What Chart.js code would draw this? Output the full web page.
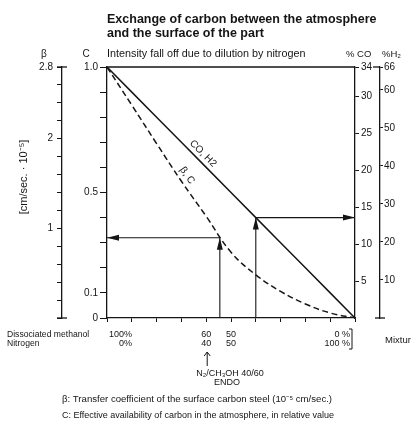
<!DOCTYPE html>
<html>
<head>
<meta charset="utf-8">
<script src="https://cdn.jsdelivr.net/npm/chart.js@4/dist/chart.umd.min.js"></script>
<style>
  body { margin: 0; background: #fff; }
  #wrap { width: 411px; height: 435px; position: relative; }
</style>
</head>
<body>
<div id="wrap"><canvas id="myChart"></canvas></div>
<script>
// values (x = % nitrogen in the mixture)
const nitrogen = [0, 10, 20, 30, 40, 50, 60, 70, 80, 90, 100];
const coH2 = [1.0, 0.9, 0.8, 0.7, 0.6, 0.5, 0.4, 0.3, 0.2, 0.1, 0.0];
const betaC = [1.0, 0.848, 0.695, 0.545, 0.405, 0.262, 0.172, 0.106, 0.056, 0.02, 0.0];

// the two reading arrows: x position and the level they turn at
const arrowX = [45.5, 60];
const arrowLevel = [0.32, 0.40];

// axis ticks
const cTicks = [0, 0.1, 0.2, 0.3, 0.4, 0.5, 0.6, 0.7, 0.8, 0.9, 1.0];
const cTickLabels = ['0', '0.1', '', '', '', '0.5', '', '', '', '', '1.0'];
const betaTicks = [0, 0.2, 0.4, 0.6, 0.8, 1.0, 1.2, 1.4, 1.6, 1.8, 2.0, 2.2, 2.4, 2.6, 2.8];
const betaTickLabels = ['', '', '', '', '', '1', '', '', '', '', '2', '', '', '', '2.8'];
const coTicks = [5, 10, 15, 20, 25, 30, 34];
const h2Ticks = [10, 20, 30, 40, 50, 60, 66];

// mixture rows under the x axis
const mixAt = [0, 40, 50, 100];
const methanolRow = ['100%', '60', '50', '0 %'];
const nitrogenRow = ['0%', '40', '50', '100 %'];

const ink = '#151515';
const fam = '"Liberation Sans", Arial, sans-serif';
Chart.defaults.font.family = fam;
Chart.defaults.color = ink;

function pts(xs, ys) {
    return xs.map((v, i) => ({ x: v, y: ys[i] }));
}

function line(ctx, x1, y1, x2, y2) {
    ctx.beginPath();
    ctx.moveTo(x1, y1);
    ctx.lineTo(x2, y2);
    ctx.stroke();
}

function txt(ctx, s, x, y, size, align, bold) {
    ctx.font = (bold ? 'bold ' : '') + size + 'px ' + fam;
    ctx.textAlign = align || 'left';
    ctx.textBaseline = 'middle';
    ctx.fillText(s, x, y);
}

function fixTicks(list) {
    return function (scale) {
        scale.ticks = list.map(v => ({ value: v }));
    };
}

function sideAxis(pos, max, weight, list, labels, tickLen, pad, width) {
    return {
        type: 'linear',
        position: pos,
        min: 0,
        max: max,
        weight: weight,
        afterBuildTicks: fixTicks(list),
        afterFit: function (s) { s.width = width; },
        ticks: {
            autoSkip: false,
            padding: pad,
            font: { size: 10 },
            color: ink,
            callback: (v, i) => labels[i]
        },
        grid: { drawOnChartArea: false, tickLength: tickLen, color: ink, lineWidth: 1 },
        border: { color: ink, width: 1.3 }
    };
}

const arrowHeads = {
    id: 'arrowHeads',
    afterDatasetsDraw(chart) {
        const ctx = chart.ctx;
        chart.data.datasets.forEach((ds, i) => {
            if (!ds.arrow) return;
            const p = chart.getDatasetMeta(i).data;
            const a = p[p.length - 2], b = p[p.length - 1];
            ctx.save();
            ctx.fillStyle = ink;
            ctx.translate(b.x, b.y);
            ctx.rotate(Math.atan2(b.y - a.y, b.x - a.x));
            ctx.beginPath();
            ctx.moveTo(0, 0);
            ctx.lineTo(-12, -3);
            ctx.lineTo(-12, 3);
            ctx.closePath();
            ctx.fill();
            ctx.restore();
        });
    }
};

const diagramText = {
    id: 'diagramText',
    afterDraw(chart) {
        const ctx = chart.ctx;
        const area = chart.chartArea;
        const x = chart.scales.x, c = chart.scales.c, b = chart.scales.beta, h2 = chart.scales.h2;
        ctx.save();
        ctx.fillStyle = ink;
        ctx.strokeStyle = ink;
        ctx.lineWidth = 1.3;

        // top edge of the plot and axis end caps
        line(ctx, area.left, area.top, area.right, area.top);
        const bx = b.right;
        line(ctx, bx - 5, b.getPixelForValue(2.8), bx + 5, b.getPixelForValue(2.8));
        line(ctx, bx - 5, b.getPixelForValue(0), bx + 5, b.getPixelForValue(0));
        const hx = h2.left;
        line(ctx, hx - 7, h2.getPixelForValue(66), hx, h2.getPixelForValue(66));
        line(ctx, hx - 5, h2.getPixelForValue(0), hx + 5, h2.getPixelForValue(0));

        // titles
        txt(ctx, 'Exchange of carbon between the atmosphere', area.left, 20, 12.5, 'left', true);
        txt(ctx, 'and the surface of the part', area.left, 34, 12.5, 'left', true);
        txt(ctx, 'β', 44, 54, 10, 'center');
        txt(ctx, 'C', 86, 54, 10, 'center');
        txt(ctx, 'Intensity fall off due to dilution by nitrogen', area.left, 54, 10.8);
        txt(ctx, '% CO', 346, 54, 9.5);
        txt(ctx, '%H₂', 382, 54, 9.5);

        // beta axis unit
        ctx.save();
        ctx.translate(24, 177);
        ctx.rotate(-Math.PI / 2);
        txt(ctx, '[cm/sec. · 10⁻⁵]', 0, 0, 11, 'center');
        ctx.restore();

        // curve names
        ctx.save();
        ctx.translate(x.getPixelForValue(38.7), c.getPixelForValue(0.655));
        ctx.rotate(Math.PI / 4);
        txt(ctx, 'CO, H2', 0, 0, 10, 'center');
        ctx.restore();
        ctx.save();
        ctx.translate(x.getPixelForValue(32.3), c.getPixelForValue(0.568));
        ctx.rotate(0.95);
        txt(ctx, 'β, C', 0, 0, 10, 'center');
        ctx.restore();

        // mixture rows
        const y1 = 335, y2 = 344;
        txt(ctx, 'Dissociated methanol', 7, y1, 8.6);
        txt(ctx, 'Nitrogen', 7, y2, 8.6);
        mixAt.forEach((v, i) => {
            let px = x.getPixelForValue(v), al = 'center';
            if (i === 0) { px += 25; al = 'right'; }
            if (i === mixAt.length - 1) { px -= 5; al = 'right'; }
            txt(ctx, methanolRow[i], px, y1, 9, al);
            txt(ctx, nitrogenRow[i], px, y2, 9, al);
        });
        ctx.lineWidth = 1;
        const kx = x.getPixelForValue(100) - 3;
        line(ctx, kx, 329, kx, 349);
        line(ctx, kx - 3, 329, kx, 329);
        line(ctx, kx - 3, 349, kx, 349);
        txt(ctx, 'Mixture', 385, 340, 9.5);

        // ENDO marker
        const ax = x.getPixelForValue(40) + 1;
        line(ctx, ax, 352, ax, 366);
        line(ctx, ax - 3, 356, ax, 352);
        line(ctx, ax + 3, 356, ax, 352);
        txt(ctx, 'N₂/CH₃OH 40/60', 230, 374, 9, 'center');
        txt(ctx, 'ENDO', 227, 383, 9, 'center');

        // footnotes
        txt(ctx, 'β: Transfer coefficient of the surface carbon steel (10⁻⁵ cm/sec.)', 62, 399, 9.6);
        txt(ctx, 'C: Effective availability of carbon in the atmosphere, in relative value', 62, 416, 9);
        ctx.restore();
    }
};

function start() {
    const ctx = document.getElementById('myChart');
    const arrowSets = [];
    arrowX.forEach((ax, i) => {
        arrowSets.push({
            label: 'arrow up ' + (i + 1),
            yAxisID: 'c',
            data: [{ x: ax, y: 0 }, { x: ax, y: arrowLevel[i] }],
            borderColor: ink, borderWidth: 1.1, pointRadius: 0, arrow: true
        });
        arrowSets.push({
            label: 'arrow side ' + (i + 1),
            yAxisID: 'c',
            data: [{ x: ax, y: arrowLevel[i] }, { x: i === 0 ? 0 : 100, y: arrowLevel[i] }],
            borderColor: ink, borderWidth: 1.1, pointRadius: 0, arrow: true
        });
    });

    myChart = new Chart(ctx, {
        type: 'line',
        data: {
            datasets: [
                {
                    label: 'CO, H2',
                    yAxisID: 'c',
                    data: pts(nitrogen, coH2),
                    borderColor: ink,
                    borderWidth: 1.5,
                    pointRadius: 0
                },
                {
                    label: 'β, C',
                    yAxisID: 'c',
                    data: pts(nitrogen, betaC),
                    borderColor: ink,
                    borderWidth: 1.5,
                    borderDash: [6, 3.5],
                    tension: 0.4,
                    pointRadius: 0
                }
            ].concat(arrowSets)
        },
        options: {
            responsive: true,
            maintainAspectRatio: false,
            animation: false,
            layout: {
                padding: { left: 0, right: 0, top: 67, bottom: 112 }
            },
            plugins: {
                legend: { display: false },
                tooltip: { enabled: false }
            },
            scales: {
                x: {
                    type: 'linear',
                    position: 'bottom',
                    min: 0,
                    max: 100,
                    afterBuildTicks: fixTicks(nitrogen),
                    afterFit: function (s) { s.height = 5; },
                    ticks: { display: false },
                    grid: { drawOnChartArea: false, tickLength: 4, color: ink, lineWidth: 1 },
                    border: { color: ink, width: 1.3 }
                },
                c: sideAxis('left', 1, 0, cTicks, cTickLabels, 7, 2, 45),
                beta: sideAxis('left', 2.8, 1, betaTicks, betaTickLabels, 5, 4, 62),
                co: sideAxis('right', 34, 0, coTicks, coTicks.map(String), 4, 2, 25),
                h2: sideAxis('right', 66, 1, h2Ticks, h2Ticks.map(String), 3, 1, 31)
            }
        },
        plugins: [arrowHeads, diagramText]
    });
}

start();
</script>
</body>
</html>
